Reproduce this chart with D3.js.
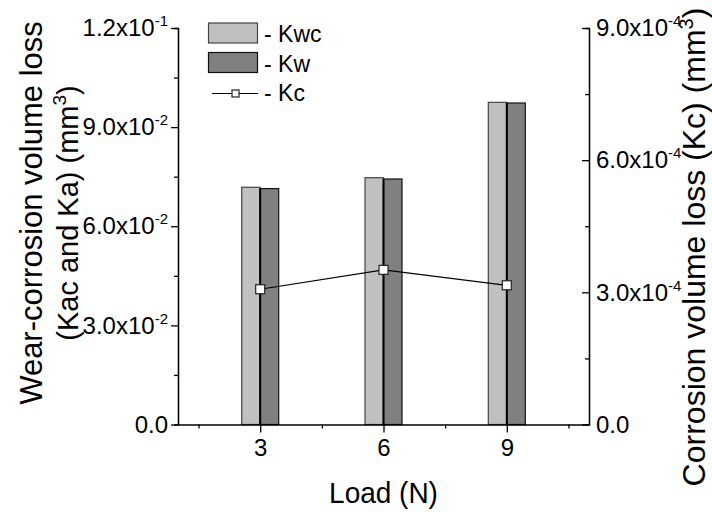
<!DOCTYPE html>
<html>
<head>
<meta charset="utf-8">
<script src="https://cdnjs.cloudflare.com/ajax/libs/d3/7.8.5/d3.min.js"></script>
<style>
  body { margin: 0; background: #fff; }
  svg { display: block; font-family: "Liberation Sans", Arial, sans-serif; }
</style>
</head>
<body>
<div id="chart"></div>
<script>
// data
var loads = [3, 6, 9];
var kwc = [0.0718, 0.0747, 0.0975];   // light bars, left axis
var kw = [0.0714, 0.0743, 0.0973];    // dark bars, left axis
var kc = [3.07e-4, 3.51e-4, 3.16e-4]; // squares, right axis
var leftTicks = [0, 0.03, 0.06, 0.09, 0.12];
var leftTickLabels = [["0.0", ""], ["3.0x10", "-2"], ["6.0x10", "-2"], ["9.0x10", "-2"], ["1.2x10", "-1"]];
var rightTicks = [0, 3e-4, 6e-4, 9e-4];
var rightTickLabels = [["0.0", ""], ["3.0x10", "-4"], ["6.0x10", "-4"], ["9.0x10", "-4"]];

var width = 712, height = 515;
var x = d3.scaleLinear().domain([1, 11]).range([178, 589]);
var y = d3.scaleLinear().domain([0, 0.12]).range([424.5, 28]);
var y2 = d3.scaleLinear().domain([0, 9e-4]).range([424.5, 28]);
var barW = 0.45; // in load units

var svg = d3.select('#chart').append('svg')
    .attr('width', width)
    .attr('height', height);

// bars
svg.selectAll('rect.kwc')
    .data(loads)
    .enter().append('rect')
    .attr('class', 'kwc')
    .attr('x', function (d) { return x(d - barW); })
    .attr('width', function (d) { return x(d) - x(d - barW); })
    .attr('y', function (d, i) { return y(kwc[i]); })
    .attr('height', function (d, i) { return y(0) - y(kwc[i]); })
    .attr('fill', '#c0c0c0')
    .attr('stroke', '#444')
    .attr('stroke-width', 1.2);

svg.selectAll('rect.kw')
    .data(loads)
    .enter().append('rect')
    .attr('class', 'kw')
    .attr('x', function (d) { return x(d); })
    .attr('width', function (d) { return x(d + barW) - x(d); })
    .attr('y', function (d, i) { return y(kw[i]); })
    .attr('height', function (d, i) { return y(0) - y(kw[i]); })
    .attr('fill', '#808080')
    .attr('stroke', '#111')
    .attr('stroke-width', 1.2);

// shared edge between the two bars is drawn heavier
svg.selectAll('line.mid')
    .data(loads)
    .enter().append('line')
    .attr('x1', function (d) { return x(d); })
    .attr('x2', function (d) { return x(d); })
    .attr('y1', function (d, i) { return y(Math.min(kwc[i], kw[i])); })
    .attr('y2', y(0))
    .attr('stroke', '#000')
    .attr('stroke-width', 2);

// Kc line
var line = d3.line()
    .x(function (d, i) { return x(loads[i]); })
    .y(function (d) { return y2(d); });

svg.append('path')
    .datum(kc)
    .attr('d', line)
    .attr('fill', 'none')
    .attr('stroke', '#000')
    .attr('stroke-width', 1.2);

svg.selectAll('rect.kc')
    .data(kc)
    .enter().append('rect')
    .attr('x', function (d, i) { return x(loads[i]) - 4.5; })
    .attr('y', function (d) { return y2(d) - 4.5; })
    .attr('width', 9)
    .attr('height', 9)
    .attr('fill', '#fff')
    .attr('stroke', '#222')
    .attr('stroke-width', 1.2);

// axes
function supLabels(sel, labels) {
    sel.selectAll('.tick text').each(function (d, i) {
        var t = d3.select(this).text('');
        t.append('tspan').text(labels[i][0]);
        if (labels[i][1]) {
            t.append('tspan').attr('dy', -10).attr('font-size', 15).text(labels[i][1]);
        }
    });
}

function styleAxis(g) {
    g.selectAll('path, line').attr('stroke', '#000').attr('stroke-width', 1.3);
    g.selectAll('text').attr('font-size', 24).attr('fill', '#000')
        .attr('font-family', '"Liberation Sans", Arial, sans-serif');
}

var leftAxis = svg.append('g')
    .attr('transform', 'translate(' + x(1) + ',0)')
    .call(d3.axisLeft(y).tickValues(leftTicks).tickSizeInner(7).tickSizeOuter(0).tickPadding(3));
styleAxis(leftAxis);
supLabels(leftAxis, leftTickLabels);

var leftMinor = svg.append('g')
    .attr('transform', 'translate(' + x(1) + ',0)')
    .call(d3.axisLeft(y).tickValues([0.015, 0.045, 0.075, 0.105]).tickSize(4).tickFormat(''));
styleAxis(leftMinor);

var rightAxis = svg.append('g')
    .attr('transform', 'translate(' + x(11) + ',0)')
    .call(d3.axisRight(y2).tickValues(rightTicks).tickSizeInner(-7).tickSizeOuter(0).tickPadding(7));
styleAxis(rightAxis);
supLabels(rightAxis, rightTickLabels);

var rightMinor = svg.append('g')
    .attr('transform', 'translate(' + x(11) + ',0)')
    .call(d3.axisRight(y2).tickValues([1.5e-4, 4.5e-4, 7.5e-4]).tickSize(-4).tickFormat(''));
styleAxis(rightMinor);

var bottomAxis = svg.append('g')
    .attr('transform', 'translate(0,' + y(0) + ')')
    .call(d3.axisBottom(x).tickValues(loads).tickSizeInner(8).tickSizeOuter(0).tickPadding(6).tickFormat(d3.format('d')));
styleAxis(bottomAxis);

var bottomMinor = svg.append('g')
    .attr('transform', 'translate(0,' + y(0) + ')')
    .call(d3.axisBottom(x).tickValues([1.5, 4.5, 7.5, 10.5]).tickSize(4).tickFormat(''));
styleAxis(bottomMinor);
bottomMinor.select('.domain').remove();

// axis titles
svg.append('text')
    .attr('transform', 'translate(' + x(6) + ',503) scale(1,1.08)')
    .attr('text-anchor', 'middle')
    .attr('font-size', 28)
    .text('Load (N)');

var lt = svg.append('g').attr('transform', 'translate(42,213) rotate(-90)');
lt.append('text')
    .attr('text-anchor', 'middle')
    .attr('font-size', 31)
    .text('Wear-corrosion volume loss');
var lt2 = lt.append('text')
    .attr('y', 36)
    .attr('text-anchor', 'middle')
    .attr('font-size', 29);
lt2.append('tspan').text('(Kac and Ka) (mm');
lt2.append('tspan').attr('dy', -12).attr('font-size', 19).text('3');
lt2.append('tspan').attr('dy', 12).text(')');

var rt = svg.append('text')
    .attr('transform', 'translate(705,247) rotate(-90)')
    .attr('text-anchor', 'middle')
    .attr('font-size', 32);
rt.append('tspan').text('Corrosion volume loss (Kc) (mm');
rt.append('tspan').attr('dy', -12).attr('font-size', 20).text('3');
rt.append('tspan').attr('dy', 12).text(')');

// legend
var legend = svg.append('g');
legend.append('rect').attr('x', 208.5).attr('y', 23).attr('width', 49).attr('height', 20)
    .attr('fill', '#c0c0c0').attr('stroke', '#444').attr('stroke-width', 1.2);
legend.append('rect').attr('x', 208.5).attr('y', 52.5).attr('width', 49).attr('height', 20)
    .attr('fill', '#808080').attr('stroke', '#111').attr('stroke-width', 1.2);
legend.append('line').attr('x1', 212).attr('x2', 258).attr('y1', 93.5).attr('y2', 93.5)
    .attr('stroke', '#000').attr('stroke-width', 1.2);
legend.append('rect').attr('x', 232).attr('y', 90).attr('width', 7).attr('height', 7)
    .attr('fill', '#fff').attr('stroke', '#222').attr('stroke-width', 1.2);
legend.selectAll('text.lbl')
    .data(['- Kwc', '- Kw', '- Kc'])
    .enter().append('text')
    .attr('x', 264)
    .attr('y', function (d, i) { return 42 + i * 29.5; })
    .attr('font-size', 23)
    .text(function (d) { return d; });
</script>
</body>
</html>
